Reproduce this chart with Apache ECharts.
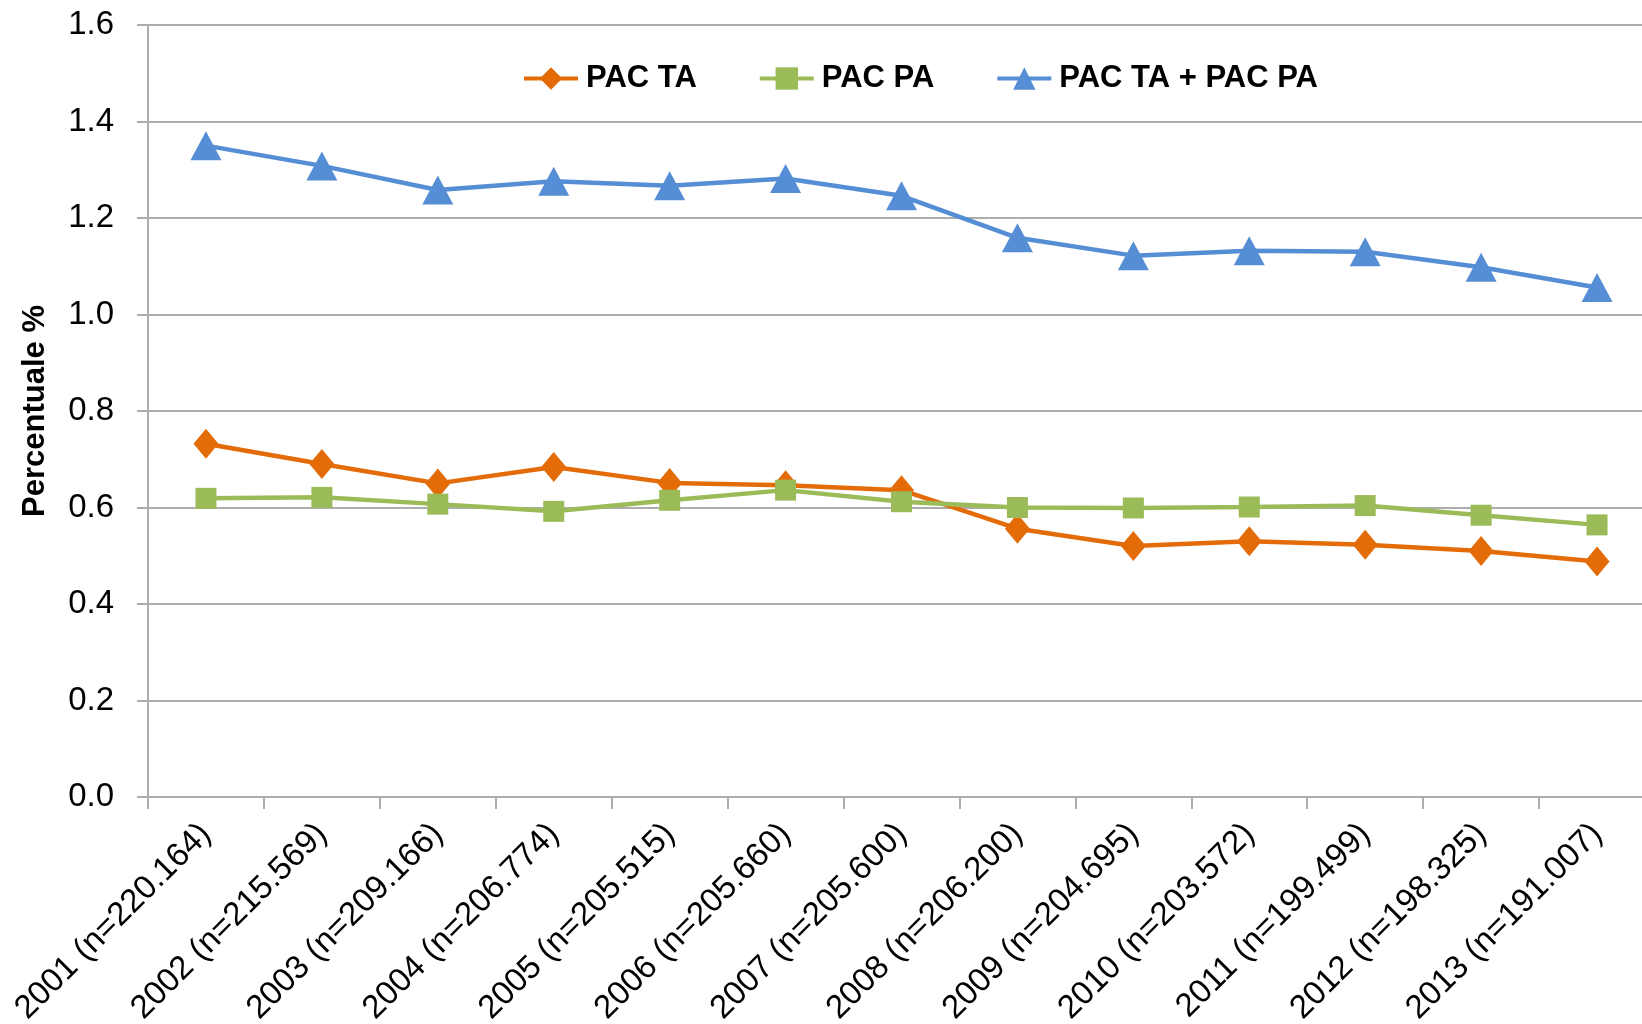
<!DOCTYPE html>
<html>
<head>
<meta charset="utf-8">
<title>PAC TA / PAC PA</title>
<script src="https://cdn.jsdelivr.net/npm/echarts@6/dist/echarts.min.js"></script>
<style>
  html, body { margin: 0; padding: 0; background: #fff; }
  #main { width: 1642px; height: 1024px; }
</style>
</head>
<body>
<div id="main"></div>
<script>
// dati
var anni = ['2001 (n=220.164)', '2002 (n=215.569)', '2003 (n=209.166)', '2004 (n=206.774)',
            '2005 (n=205.515)', '2006 (n=205.660)', '2007 (n=205.600)', '2008 (n=206.200)',
            '2009 (n=204.695)', '2010 (n=203.572)', '2011 (n=199.499)', '2012 (n=198.325)',
            '2013 (n=191.007)'];
var pacTA = [0.732, 0.690, 0.650, 0.684, 0.651, 0.646, 0.636, 0.556, 0.520, 0.530, 0.523, 0.510, 0.488];
var pacPA = [0.619, 0.621, 0.607, 0.592, 0.615, 0.636, 0.612, 0.600, 0.599, 0.601, 0.604, 0.584, 0.564];
var pacTot = [1.350, 1.308, 1.258, 1.276, 1.267, 1.282, 1.246, 1.159, 1.122, 1.132, 1.130, 1.098, 1.056];
var nomiSerie = ['PAC TA', 'PAC PA', 'PAC TA + PAC PA'];
var yMin = 0, yMax = 1.6, yPasso = 0.2;

var font = 'Liberation Sans';
var grigio = '#ADADAD';

var myChart = echarts.init(document.getElementById('main'));
var option = {
    backgroundColor: '#fff',
    animation: false,
    legend: {
        data: nomiSerie,
        left: 517,
        top: 58,
        itemWidth: 54,
        itemHeight: 28,
        itemGap: 61,
        lineStyle: { width: 4 },
        textStyle: { fontFamily: font, fontWeight: 'bold', fontSize: 31, color: '#000', padding: [0, 0, 0, 3] }
    },
    grid: {
        left: 148,
        right: -13,
        top: 25,
        bottom: 227,
        containLabel: false,
        outerBoundsMode: 'none'
    },
    xAxis: {
        type: 'category',
        data: anni,
        boundaryGap: true,
        axisLine: { show: true, lineStyle: { color: grigio, width: 2 } },
        axisTick: { show: true, length: 12, alignWithLabel: false, lineStyle: { color: grigio, width: 2 } },
        axisLabel: {
            rotate: 45,
            interval: 0,
            margin: 32,
            fontFamily: font,
            fontSize: 33,
            color: '#000'
        },
        splitLine: { show: false }
    },
    yAxis: {
        type: 'value',
        min: yMin,
        max: yMax,
        interval: yPasso,
        name: 'Percentuale %',
        nameLocation: 'middle',
        nameGap: 97,
        nameTextStyle: { fontFamily: font, fontWeight: 'bold', fontSize: 31, color: '#000' },
        axisLine: { show: true, lineStyle: { color: grigio, width: 2 } },
        axisTick: { show: true, length: 11, lineStyle: { color: grigio, width: 2 } },
        axisLabel: {
            margin: 34,
            fontFamily: font,
            fontSize: 33,
            color: '#000',
            formatter: function (v) { return v.toFixed(1); }
        },
        splitLine: { show: true, lineStyle: { color: grigio, width: 2 } }
    },
    series: [
        {
            name: nomiSerie[0],
            type: 'line',
            data: pacTA,
            symbol: 'diamond',
            symbolSize: [25, 30],
            lineStyle: { color: '#E36C09', width: 4.5 },
            itemStyle: { color: '#E36C09' }
        },
        {
            name: nomiSerie[1],
            type: 'line',
            data: pacPA,
            symbol: 'rect',
            symbolSize: 21,
            lineStyle: { color: '#9BBB59', width: 4.5 },
            itemStyle: { color: '#9BBB59' }
        },
        {
            name: nomiSerie[2],
            type: 'line',
            data: pacTot,
            symbol: 'triangle',
            symbolSize: [31, 29],
            lineStyle: { color: '#558ED5', width: 4.5 },
            itemStyle: { color: '#558ED5' }
        }
    ]
};
myChart.setOption(option);
</script>
</body>
</html>
